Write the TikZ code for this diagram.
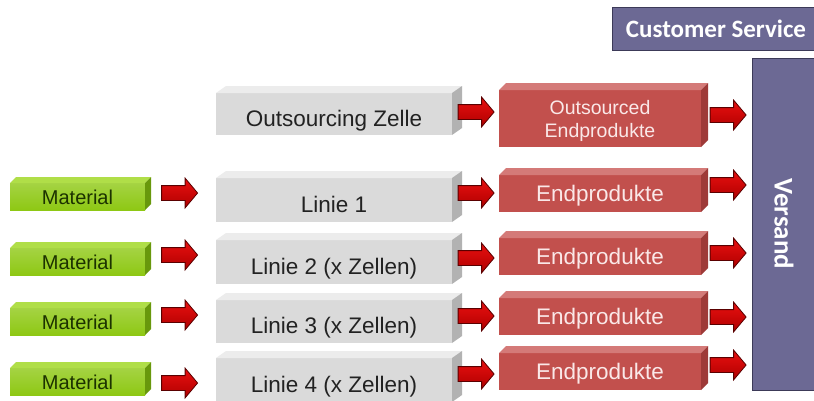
\documentclass[tikz,border=0pt]{standalone}
\usepackage{fontspec}
\setmainfont{Liberation Sans}
\newfontfamily\calibri{Carlito}
\usetikzlibrary{calc,shapes.arrows}

\definecolor{matfront}{RGB}{142,200,20}
\definecolor{mattop}{RGB}{176,222,72}
\definecolor{matside}{RGB}{104,152,12}
\definecolor{mattext}{RGB}{28,50,0}
\definecolor{linfront}{RGB}{218,218,218}
\definecolor{lintop}{RGB}{236,236,236}
\definecolor{linside}{RGB}{178,178,178}
\definecolor{lintext}{RGB}{34,34,34}
\definecolor{profront}{RGB}{194,80,77}
\definecolor{protop}{RGB}{212,122,120}
\definecolor{proside}{RGB}{158,58,56}
\definecolor{protext}{RGB}{250,232,232}
\definecolor{arrowtop}{RGB}{232,16,16}
\definecolor{arrowbot}{RGB}{176,0,0}
\definecolor{arrowline}{RGB}{90,0,0}
\definecolor{service}{RGB}{108,105,148}
\definecolor{servline}{RGB}{60,58,88}

\begin{document}
\begin{tikzpicture}[x=1pt,y=-1pt,
    box/.style={rectangle,inner sep=0pt,outer sep=0pt,text depth=0pt},
    material/.style={box,top color=matfront!80!white,bottom color=matfront,minimum width=135pt,minimum height=27pt,text=mattext,text height=16pt,font=\fontsize{20}{22}\selectfont},
    linie/.style={box,fill=linfront,minimum width=236pt,text=lintext,text height=24pt,font=\fontsize{22.5}{26}\selectfont},
    produkt/.style={box,fill=profront,minimum width=202pt,minimum height=37pt,text=protext,text height=16pt,font=\fontsize{22.5}{26}\selectfont},
    flow/.style={single arrow,draw=arrowline,line width=0.8pt,top color=arrowtop,bottom color=arrowbot,minimum width=29pt,minimum height=36pt,inner sep=7pt,single arrow head extend=7.5pt,single arrow tip angle=100},
    department/.style={rectangle,draw=servline,line width=1pt,fill=service,text=white,font=\calibri\bfseries\fontsize{25}{28}\selectfont}
    ]

  \useasboundingbox (0,0) rectangle (814,400);
  \clip (0,0) rectangle (814,400);
  \fill[white] (0,0) rectangle (814,400);

  % departments on the right
  \node(service) [department,minimum width=208pt,minimum height=43pt] at (716,28.5) {Customer Service};
  \node(versand) [department,rotate=-90,minimum width=332pt,minimum height=64pt,font=\calibri\bfseries\fontsize{27}{30}\selectfont] at (784,224) {Versand};

  % material
  \node(mat1) [material] at (77.5,196.5) {Material};
  \node(mat2) [material] at (77.5,261.5) {Material};
  \node(mat3) [material] at (77.5,321.5) {Material};
  \node(mat4) [material] at (77.5,381.5) {Material};

  % lines and cell
  \node(lin0) [linie,minimum height=42pt] at (334,114) {Outsourcing Zelle};
  \node(lin1) [linie,minimum height=44pt] at (334,200) {Linie 1};
  \node(lin2) [linie,minimum height=44pt] at (334,262) {Linie 2 (x Zellen)};
  \node(lin3) [linie,minimum height=43pt] at (334,321.5) {Linie 3 (x Zellen)};
  \node(lin4) [linie,minimum height=44pt] at (334,380) {Linie 4 (x Zellen)};

  % end products
  \node(pro0) [produkt,minimum height=57pt,align=center,text height=,font=\fontsize{19.5}{23}\selectfont] at (600,118.5) {Outsourced\\Endprodukte};
  \node(pro1) [produkt] at (600,193.5) {Endprodukte};
  \node(pro2) [produkt] at (600,256.5) {Endprodukte};
  \node(pro3) [produkt] at (600,316.5) {Endprodukte};
  \node(pro4) [produkt] at (600,371.5) {Endprodukte};

  % top and side faces
  \foreach \n in {mat1,mat2,mat3,mat4} {
    \fill[mattop] (\n.north west) -- ($(\n.north west)+(6,-6)$) -- ($(\n.north east)+(6,-6)$) -- (\n.north east) -- cycle;
    \fill[matside] (\n.north east) -- ($(\n.north east)+(6,-6)$) -- ($(\n.south east)+(6,-6)$) -- (\n.south east) -- cycle;
  }
  \foreach \n in {lin0,lin1,lin2,lin3,lin4} {
    \fill[lintop] (\n.north west) -- ($(\n.north west)+(10,-7)$) -- ($(\n.north east)+(10,-7)$) -- (\n.north east) -- cycle;
    \fill[linside] (\n.north east) -- ($(\n.north east)+(10,-7)$) -- ($(\n.south east)+(10,-7)$) -- (\n.south east) -- cycle;
  }
  \foreach \n in {pro0,pro1,pro2,pro3,pro4} {
    \fill[protop] (\n.north west) -- ($(\n.north west)+(7,-7)$) -- ($(\n.north east)+(7,-7)$) -- (\n.north east) -- cycle;
    \fill[proside] (\n.north east) -- ($(\n.north east)+(7,-7)$) -- ($(\n.south east)+(7,-7)$) -- (\n.south east) -- cycle;
  }

  % block arrows
  \node(in1) [flow] at (176.5,193) {};
  \node(in2) [flow] at (176.5,255) {};
  \node(in3) [flow] at (176.5,315) {};
  \node(in4) [flow] at (176.5,383) {};

  \node(mid0) [flow] at (473,112) {};
  \node(mid1) [flow] at (473,193) {};
  \node(mid2) [flow] at (473,258) {};
  \node(mid3) [flow] at (473,316) {};
  \node(mid4) [flow] at (473,374) {};

  \node(out0) [flow] at (725,115) {};
  \node(out1) [flow] at (725,185) {};
  \node(out2) [flow] at (725,253) {};
  \node(out3) [flow] at (725,317) {};
  \node(out4) [flow] at (725,365) {};

\end{tikzpicture}
\end{document}
